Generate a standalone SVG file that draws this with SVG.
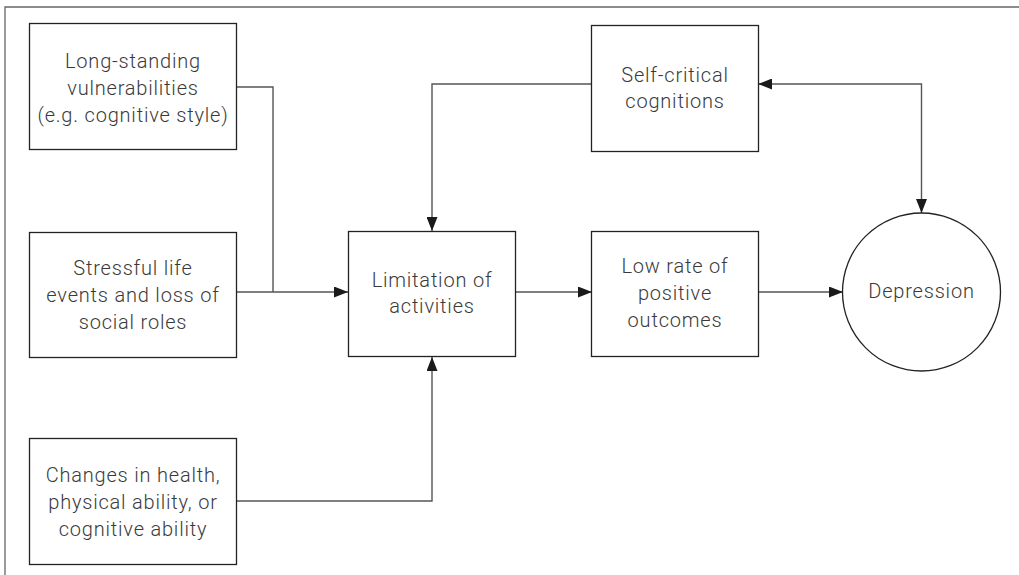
<svg xmlns="http://www.w3.org/2000/svg" width="1019" height="575" viewBox="0 0 1019 575">
<defs>
<style>
.box{fill:#fff;stroke:#222;stroke-width:1.3}
.t{font-family:Roboto,"Liberation Sans",sans-serif;font-weight:300;font-size:20px;letter-spacing:0.8px;fill:#3a3a3a;text-anchor:middle}
.c{fill:none;stroke:#555;stroke-width:1.4}
.frame{fill:none;stroke:#666;stroke-width:1.3}
</style>
<marker id="ah" viewBox="0 0 14 11" refX="14" refY="5.5" markerWidth="14" markerHeight="11" markerUnits="userSpaceOnUse" orient="auto-start-reverse">
<path d="M0,0 L14,5.5 L0,11 Z" fill="#1a1a1a"/>
</marker>
</defs>
<rect width="1019" height="575" fill="#fff"/>
<path class="frame" d="M5,575 V7 H1019"/>
<g id="connectors">
<path class="c" d="M237,87 H273 V292"/>
<path class="c" d="M237,292 H348" marker-end="url(#ah)"/>
<path class="c" d="M237,501 H432 V357" marker-end="url(#ah)"/>
<path class="c" d="M592,84 H432 V231" marker-end="url(#ah)"/>
<path class="c" d="M515,292 H592" marker-end="url(#ah)"/>
<path class="c" d="M758,292 H843" marker-end="url(#ah)"/>
<path class="c" d="M758,84 H921.5 V213" marker-start="url(#ah)" marker-end="url(#ah)"/>
</g>
<g id="n-longstanding">
<rect class="box" x="29.5" y="23.5" width="207" height="126"/>
<text class="t" x="133" y="68">Long-standing</text>
<text class="t" x="133" y="95">vulnerabilities</text>
<text class="t" x="133" y="122">(e.g. cognitive style)</text>
</g>
<g id="n-stressful">
<rect class="box" x="29.5" y="232.5" width="207" height="125"/>
<text class="t" x="133" y="275">Stressful life</text>
<text class="t" x="133" y="302">events and loss of</text>
<text class="t" x="133" y="329">social roles</text>
</g>
<g id="n-changes">
<rect class="box" x="29.5" y="438.5" width="207" height="126"/>
<text class="t" x="133" y="482">Changes in health,</text>
<text class="t" x="133" y="509">physical ability, or</text>
<text class="t" x="133" y="536">cognitive ability</text>
</g>
<g id="n-limitation">
<rect class="box" x="348.5" y="231.5" width="167" height="125"/>
<text class="t" x="432" y="287">Limitation of</text>
<text class="t" x="432" y="313">activities</text>
</g>
<g id="n-lowrate">
<rect class="box" x="591.5" y="231.5" width="167" height="125"/>
<text class="t" x="675" y="273">Low rate of</text>
<text class="t" x="675" y="300">positive</text>
<text class="t" x="675" y="327">outcomes</text>
</g>
<g id="n-selfcritical">
<rect class="box" x="591.5" y="25.5" width="167" height="126"/>
<text class="t" x="675" y="82">Self-critical</text>
<text class="t" x="675" y="108">cognitions</text>
</g>
<g id="n-depression">
<circle class="box" cx="921.5" cy="292" r="79" stroke-width="1.1"/>
<text class="t" x="921.5" y="298">Depression</text>
</g>
</svg>
